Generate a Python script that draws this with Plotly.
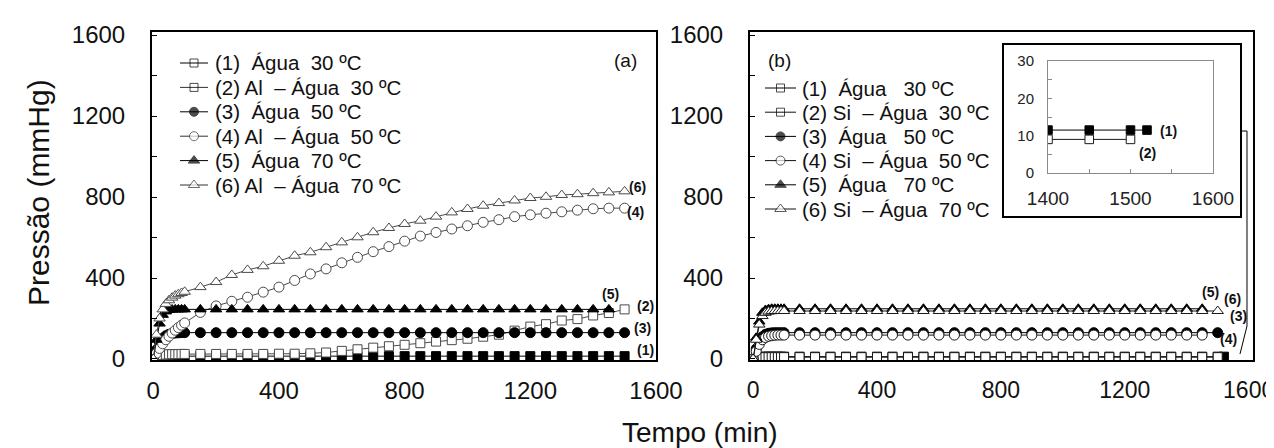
import plotly.graph_objects as go

W, H = 1274, 448
FONT = "Liberation Sans, Arial, sans-serif"

# ---------------- data ----------------
t_a = [0, 10, 20, 30, 40, 50, 60, 70, 80, 90, 100, 150, 200, 250, 300, 350, 400, 450, 500,
       550, 600, 650, 700, 750, 800, 850, 900, 950, 1000, 1050, 1100, 1150, 1200, 1250,
       1300, 1350, 1400, 1450, 1500]
t_b = [0, 10, 20, 30, 40, 50, 60, 70, 80, 90, 100, 150, 200, 250, 300, 350, 400, 450, 500,
       550, 600, 650, 700, 750, 800, 850, 900, 950, 1000, 1050, 1100, 1150, 1200, 1250,
       1300, 1350, 1400, 1450, 1500, 1520]

# Panel (a): Al - water
a1 = [0, 6, 10, 12, 13, 14, 14, 14, 14, 14, 14, 14, 14, 14, 14, 14, 14, 14, 14, 14, 14, 14,
      14, 14, 14, 14, 14, 14, 14, 14, 14, 14, 14, 14, 14, 14, 14, 14, 14]
a2 = [0, 10, 16, 20, 22, 23, 24, 24, 24, 25, 25, 25, 25, 25, 25, 25, 26, 26, 28, 32, 40, 48,
      56, 63, 70, 78, 86, 93, 100, 110, 120, 140, 160, 172, 190, 197, 215, 227, 245]
a3 = [0, 45, 80, 102, 115, 122, 126, 128, 129, 130, 130, 130, 130, 130, 130, 130, 130, 130,
      130, 130, 130, 130, 130, 130, 130, 130, 130, 130, 130, 130, 130, 130, 130, 130, 130,
      130, 130, 130, 130]
a4 = [0, 28, 52, 75, 95, 112, 128, 142, 155, 167, 178, 230, 262, 285, 305, 330, 355, 388,
      420, 445, 475, 502, 530, 555, 582, 607, 625, 642, 658, 675, 688, 703, 712, 720, 727,
      735, 742, 745, 745]
a5 = [0, 95, 175, 218, 235, 242, 244, 245, 245, 245, 245, 245, 245, 245, 245, 245, 245, 245,
      245, 245, 245, 245, 245, 245, 245, 245, 245, 245, 245, 245, 245, 245, 245, 245, 245,
      245, 245, 245, None]
a6 = [0, 120, 200, 245, 272, 290, 303, 313, 320, 326, 332, 355, 380, 415, 440, 458, 485,
      510, 527, 552, 576, 601, 626, 647, 667, 683, 703, 724, 741, 757, 770, 783, 795, 801,
      810, 814, 819, 823, 828]

# Panel (b): Si - water
b1 = [0, 5, 9, 11, 11.5, 11.5, 11.5, 11.5, 11.5, 11.5, 11.5, 11.5, 11.5, 11.5, 11.5, 11.5,
      11.5, 11.5, 11.5, 11.5, 11.5, 11.5, 11.5, 11.5, 11.5, 11.5, 11.5, 11.5, 11.5, 11.5,
      11.5, 11.5, 11.5, 11.5, 11.5, 11.5, 11.5, 11.5, 11.5, 11.5]
b2 = [0, 4, 7, 8, 9, 9, 9, 9, 9, 9, 9, 9, 9, 9, 9, 9, 9, 9, 9, 9, 9, 9, 9, 9, 9, 9, 9, 9, 9,
      9, 9, 9, 9, 9, 9, 9, 9, 9, 9, None]
b3 = [0, 50, 88, 110, 122, 127, 129, 130, 130, 130, 130, 130, 130, 130, 130, 130, 130, 130,
      130, 130, 130, 130, 130, 130, 130, 130, 130, 130, 130, 130, 130, 130, 130, 130, 130,
      130, 130, 130, 130, None]
b4 = [0, 38, 72, 95, 106, 112, 115, 117, 118, 118, 118, 118, 118, 118, 118, 118, 118, 118,
      118, 118, 118, 118, 118, 118, 118, 118, 118, 118, 118, 118, 118, 118, 118, 118, 118,
      118, 118, 118, None, None]
b5 = [0, 105, 185, 228, 242, 246, 248, 248, 248, 248, 248, 248, 248, 248, 248, 248, 248, 248,
      248, 248, 248, 248, 248, 248, 248, 248, 248, 248, 248, 248, 248, 248, 248, 248, 248,
      248, 248, 248, None, None]
b6 = [0, 95, 170, 212, 228, 234, 236, 237, 237, 237, 237, 237, 237, 237, 237, 237, 237, 237,
      237, 237, 237, 237, 237, 237, 237, 237, 237, 237, 237, 237, 237, 237, 237, 237, 237,
      237, 237, 237, 237, None]

labels_a = ["(1)\u00a0\u00a0Água\u00a0\u00a030 ºC", "(2) Al\u00a0\u00a0– Água\u00a0\u00a030 ºC",
            "(3)\u00a0\u00a0Água\u00a0\u00a050 ºC", "(4) Al\u00a0\u00a0– Água\u00a0\u00a050 ºC",
            "(5)\u00a0\u00a0Água\u00a0\u00a070 ºC", "(6) Al\u00a0\u00a0– Água\u00a0\u00a070 ºC"]
labels_b = ["(1)\u00a0\u00a0Água\u00a0\u00a0\u00a030 ºC", "(2) Si\u00a0\u00a0– Água\u00a0\u00a030 ºC",
            "(3)\u00a0\u00a0Água\u00a0\u00a0\u00a050 ºC", "(4) Si\u00a0\u00a0– Água\u00a0\u00a050 ºC",
            "(5)\u00a0\u00a0Água\u00a0\u00a0\u00a070 ºC", "(6) Si\u00a0\u00a0– Água\u00a0\u00a070 ºC"]
curve_tags = ["(1)", "(2)", "(3)", "(4)", "(5)", "(6)"]

y_ticks = [0, 200, 400, 600, 800, 1000, 1200, 1400, 1600]
y_ticktext = ["0", "", "400", "", "800", "", "1200", "", "1600"]
x_ticks = [0, 400, 800, 1200, 1600]
inset_x_ticks = [1400, 1450, 1500, 1550, 1600]
inset_x_text = ["1400", "", "1500", "", "1600"]
inset_y_ticks = [0, 5, 10, 15, 20, 25, 30]
inset_y_text = ["0", "", "10", "", "20", "", "30"]

# ---------------- helpers ----------------
def pxx(x):
    return x / W

def pxy(y):
    return 1 - y / H

symbols = ["square", "square", "circle", "circle", "triangle-up", "triangle-up"]
filled = [True, False, True, False, True, False]
sizes = [9, 9, 10, 10, 10, 10]

fig = go.Figure()

def add_series(xs, ys, i, xa, ya, edge_open, size_scale=1.0):
    fill = "black" if filled[i] else "white"
    edge = "black" if filled[i] else edge_open
    fig.add_trace(go.Scatter(
        x=xs, y=ys, mode="lines+markers", xaxis=xa, yaxis=ya,
        line=dict(color=edge, width=1),
        marker=dict(symbol=symbols[i], size=sizes[i] * size_scale, color=fill,
                    line=dict(color=edge, width=1)),
        showlegend=False, hoverinfo="skip", connectgaps=False))

for i, ys in enumerate([a1, a2, a3, a4, a5, a6]):
    add_series(t_a, ys, i, "x", "y", "#4a4a4a")
for i, ys in enumerate([b1, b2, b3, b4, b5, b6]):
    add_series(t_b, ys, i, "x2", "y2", "#1a1a1a")
# inset: zoom of series (1) and (2) of panel b
for i, ys in enumerate([b1, b2]):
    add_series(t_b, ys, i, "x3", "y3", "#1a1a1a", size_scale=0.95)

# ---------------- legends (drawn in pixel overlay) ----------------
leg_sym = ["square-open", "square-open", "circle", "circle", "triangle-up", "triangle-up"]
leg_fill = ["black", "black", "black", "white", "black", "white"]
leg_size = [8, 8, 9, 9, 10, 10]

def legend(x_line0, x_line1, x_text, y0, dy, labels, edge_open):
    for i, lab in enumerate(labels):
        y = y0 + i * dy
        xm = (x_line0 + x_line1) / 2
        edge = "black" if filled[i] else edge_open
        fig.add_trace(go.Scatter(
            x=[x_line0, xm, x_line1], y=[y, y, y], mode="lines+markers",
            xaxis="x4", yaxis="y4", line=dict(color=edge, width=1),
            marker=dict(symbol=leg_sym[i], size=[0, leg_size[i], 0], color=leg_fill[i],
                        line=dict(color=edge, width=[0, 1, 0])),
            showlegend=False, hoverinfo="skip"))
        fig.add_annotation(text=lab, x=pxx(x_text), y=pxy(y), xref="paper", yref="paper",
                           xanchor="left", yanchor="middle", showarrow=False,
                           font=dict(family=FONT, size=20.5, color="#111"))

legend(172, 200, 205, 55, 24.4, labels_a, "#333")
legend(757, 788, 792, 80, 24.2, labels_b, "#111")

def ann(text, x, y, size, bold=False, anchor="center", angle=0):
    fig.add_annotation(text=("<b>%s</b>" % text) if bold else text, x=pxx(x), y=pxy(y),
                       xref="paper", yref="paper", xanchor=anchor, yanchor="middle",
                       showarrow=False, textangle=angle,
                       font=dict(family=FONT, size=size, color="#111"))

ann("(a)", 617, 52, 19)
ann("(b)", 771, 52, 19)
# curve tags panel (a)
for tag, (x, y) in zip(curve_tags, [(638, 342), (638, 298), (634, 320), (627, 204), (602, 286), (629, 179)]):
    ann(tag, x, y, 14, bold=True)
# curve tags panel (b)
for tag, (x, y) in zip(["(3)", "(4)", "(5)", "(6)"], [(1230, 308), (1220, 331), (1202, 284), (1224, 291)]):
    ann(tag, x, y, 14, bold=True)
# inset tags
ann("(1)", 1160, 123, 14, bold=True)
ann("(2)", 1139, 145, 14, bold=True)
# axis titles
ann("Pressão (mmHg)", 30, 185, 30, angle=-90)
ann("Tempo (min)", 692, 424, 28)

# ---------------- axes ----------------
tickfont = dict(family=FONT, size=24, color="#111")
main_x = dict(showgrid=False, zeroline=False, showline=True, linecolor="black", linewidth=2,
              mirror=True, ticks="", tickvals=x_ticks, tickfont=tickfont,
              ticklabelstandoff=8, automargin=False)
main_y = dict(showgrid=False, zeroline=False, showline=True, linecolor="black", linewidth=2,
              mirror=True, ticks="inside", ticklen=5, tickcolor="black", tickwidth=1,
              tickvals=y_ticks, ticktext=y_ticktext, tickfont=tickfont,
              range=[-5, 1615], ticklabelstandoff=20, automargin=False)

fig.update_layout(
    width=W, height=H, margin=dict(l=0, r=0, t=0, b=0), template="none",
    paper_bgcolor="white", plot_bgcolor="rgba(0,0,0,0)", showlegend=False,
    xaxis=dict(main_x, domain=[pxx(144), pxx(648)], range=[-4, 1600]),
    yaxis=dict(main_y, domain=[pxy(352), pxy(24)]),
    xaxis2=dict(main_x, domain=[pxx(742), pxx(1245)], range=[-10, 1614], anchor="y2",
                tickfont=dict(family=FONT, size=23, color="#111")),
    yaxis2=dict(main_y, domain=[pxy(352), pxy(24)], anchor="x2"),
    xaxis3=dict(domain=[pxx(1040), pxx(1205)], range=[1400, 1600], anchor="y3",
                showgrid=False, zeroline=False, showline=True, linecolor="#8a8a8a",
                linewidth=1, mirror=True, ticks="inside", ticklen=4, tickcolor="#8a8a8a",
                tickvals=inset_x_ticks, ticktext=inset_x_text,
                tickfont=dict(family=FONT, size=19, color="#222"),
                ticklabelstandoff=8, automargin=False),
    yaxis3=dict(domain=[pxy(165), pxy(53)], range=[0, 30], anchor="x3",
                showgrid=False, zeroline=False, showline=True, linecolor="#8a8a8a",
                linewidth=1, mirror=True, ticks="inside", ticklen=4, tickcolor="#8a8a8a",
                tickvals=inset_y_ticks, ticktext=inset_y_text,
                tickfont=dict(family=FONT, size=15, color="#222"),
                ticklabelstandoff=10, automargin=False),
    xaxis4=dict(domain=[0, 1], range=[0, W], visible=False, anchor="y4", fixedrange=True),
    yaxis4=dict(domain=[0, 1], range=[H, 0], visible=False, anchor="x4", fixedrange=True),
)

# inset frame and connector lines
fig.add_shape(type="rect", xref="paper", yref="paper", x0=pxx(995), x1=pxx(1233),
              y0=pxy(209), y1=pxy(36), line=dict(color="black", width=2),
              fillcolor="white", layer="below")
fig.add_shape(type="path", xref="paper", yref="paper",
              path="M %f %f L %f %f L %f %f L %f %f" % (pxx(1233), pxy(123), pxx(1239), pxy(123),
                                                     pxx(1239), pxy(318), pxx(1232), pxy(346)),
              line=dict(color="black", width=1))

fig.write_html("out.html")
